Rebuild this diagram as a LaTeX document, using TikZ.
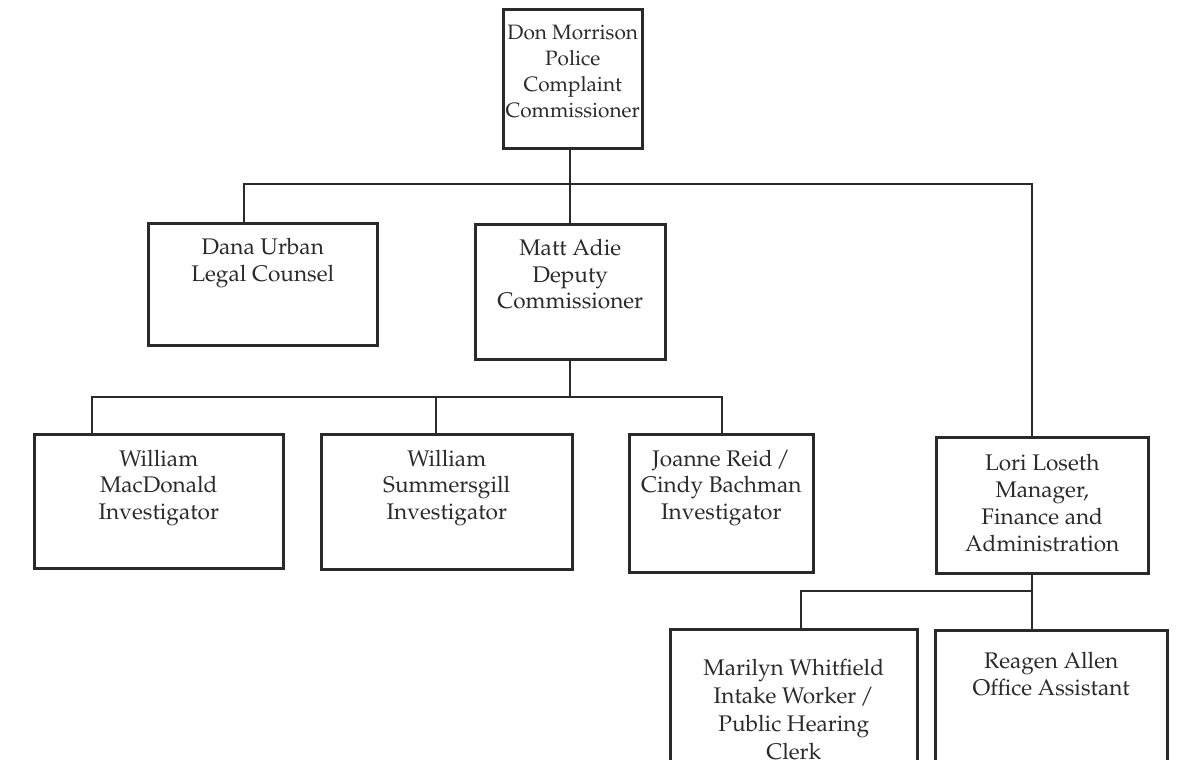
\documentclass[tikz,border=0pt]{standalone}
\usepackage[T1]{fontenc}
\usepackage{mathpazo}
\definecolor{ink}{HTML}{2A2A2A}
\begin{document}
\begin{tikzpicture}[x=0.5pt,y=-0.5pt,
  box/.style={draw=ink, line width=1.25pt, rectangle, inner sep=0pt, anchor=north west},
  lbl/.style={anchor=north, align=center, inner sep=0pt, text=ink, font=\fontsize{11.3}{13.2}\selectfont},
  wire/.style={draw=ink, line width=1pt}]
\useasboundingbox (0,0) rectangle (1179,760);
\clip (0,0) rectangle (1179,760);
% boxes
\node[box, minimum width=69.5pt, minimum height=69.5pt] (top) at (502,8) {};
\node[box, minimum width=114.5pt, minimum height=61pt] (dana) at (147,222) {};
\node[box, minimum width=95pt, minimum height=67.5pt] (matt) at (474,223) {};
\node[box, minimum width=124.5pt, minimum height=67pt] (macd) at (33,433) {};
\node[box, minimum width=125.5pt, minimum height=67.5pt] (summ) at (320,433) {};
\node[box, minimum width=92pt, minimum height=69pt] (joan) at (628,433) {};
\node[box, minimum width=106pt, minimum height=68pt] (lori) at (935,436) {};
\node[box, minimum width=123.5pt, minimum height=80pt] (mari) at (669,628) {};
\node[box, minimum width=116pt, minimum height=80pt] (reag) at (934,629) {};
% labels
\node[lbl, font=\fontsize{10.4}{13}\selectfont] (tTop) at ([yshift=-8.3pt]top.north) {Don Morrison\\Police\\Complaint\\Commissioner};
\node[lbl] (tDana) at ([yshift=-8pt]dana.north) {Dana Urban\\Legal Counsel};
\node[lbl] (tMatt) at ([yshift=-8pt]matt.north) {Matt Adie\\Deputy\\Commissioner};
\node[lbl] (tMacd) at ([yshift=-8.3pt]macd.north) {William\\MacDonald\\Investigator};
\node[lbl] (tSumm) at ([yshift=-8.3pt]summ.north) {William\\Summersgill\\Investigator};
\node[lbl] (tJoan) at ([yshift=-8.3pt]joan.north) {Joanne Reid\,/\\Cindy Bachman\\Investigator};
\node[lbl, font=\fontsize{11.3}{13.5}\selectfont] (tLori) at ([yshift=-9pt]lori.north) {Lori Loseth\\Manager,\\Finance and\\Administration};
\node[lbl, font=\fontsize{11.3}{14}\selectfont] (tMari) at ([yshift=-15.5pt]mari.north) {Marilyn Whitfield\\Intake Worker\,/\\Public Hearing\\Clerk};
\node[lbl, font=\fontsize{11.3}{13.5}\selectfont] (tReag) at ([yshift=-11.5pt]reag.north) {Reagen Allen\\Office Assistant};
% junction coordinates
\coordinate (j1) at (570,184);
\coordinate (jDana) at (244,184);
\coordinate (jLori) at (1032,184);
\coordinate (j2) at (570,397);
\coordinate (jMacd) at (92,397);
\coordinate (jSumm) at (436,397);
\coordinate (jJoan) at (722,397);
\coordinate (j3) at (1032,591);
\coordinate (jMari) at (801,591);
% connectors
\draw[wire] (top.south -| j1) -- (matt.north -| j1);
\draw[wire] (jDana |- dana.north) -- (jDana) -- (jLori) -- (jLori |- lori.north);
\draw[wire] (matt.south -| j2) -- (j2);
\draw[wire] (jMacd |- macd.north) -- (jMacd) -- (jJoan) -- (jJoan |- joan.north);
\draw[wire] (jSumm) -- (jSumm |- summ.north);
\draw[wire] (lori.south -| j3) -- (reag.north -| j3);
\draw[wire] (jMari |- mari.north) -- (jMari) -- (j3);
\end{tikzpicture}
\end{document}
